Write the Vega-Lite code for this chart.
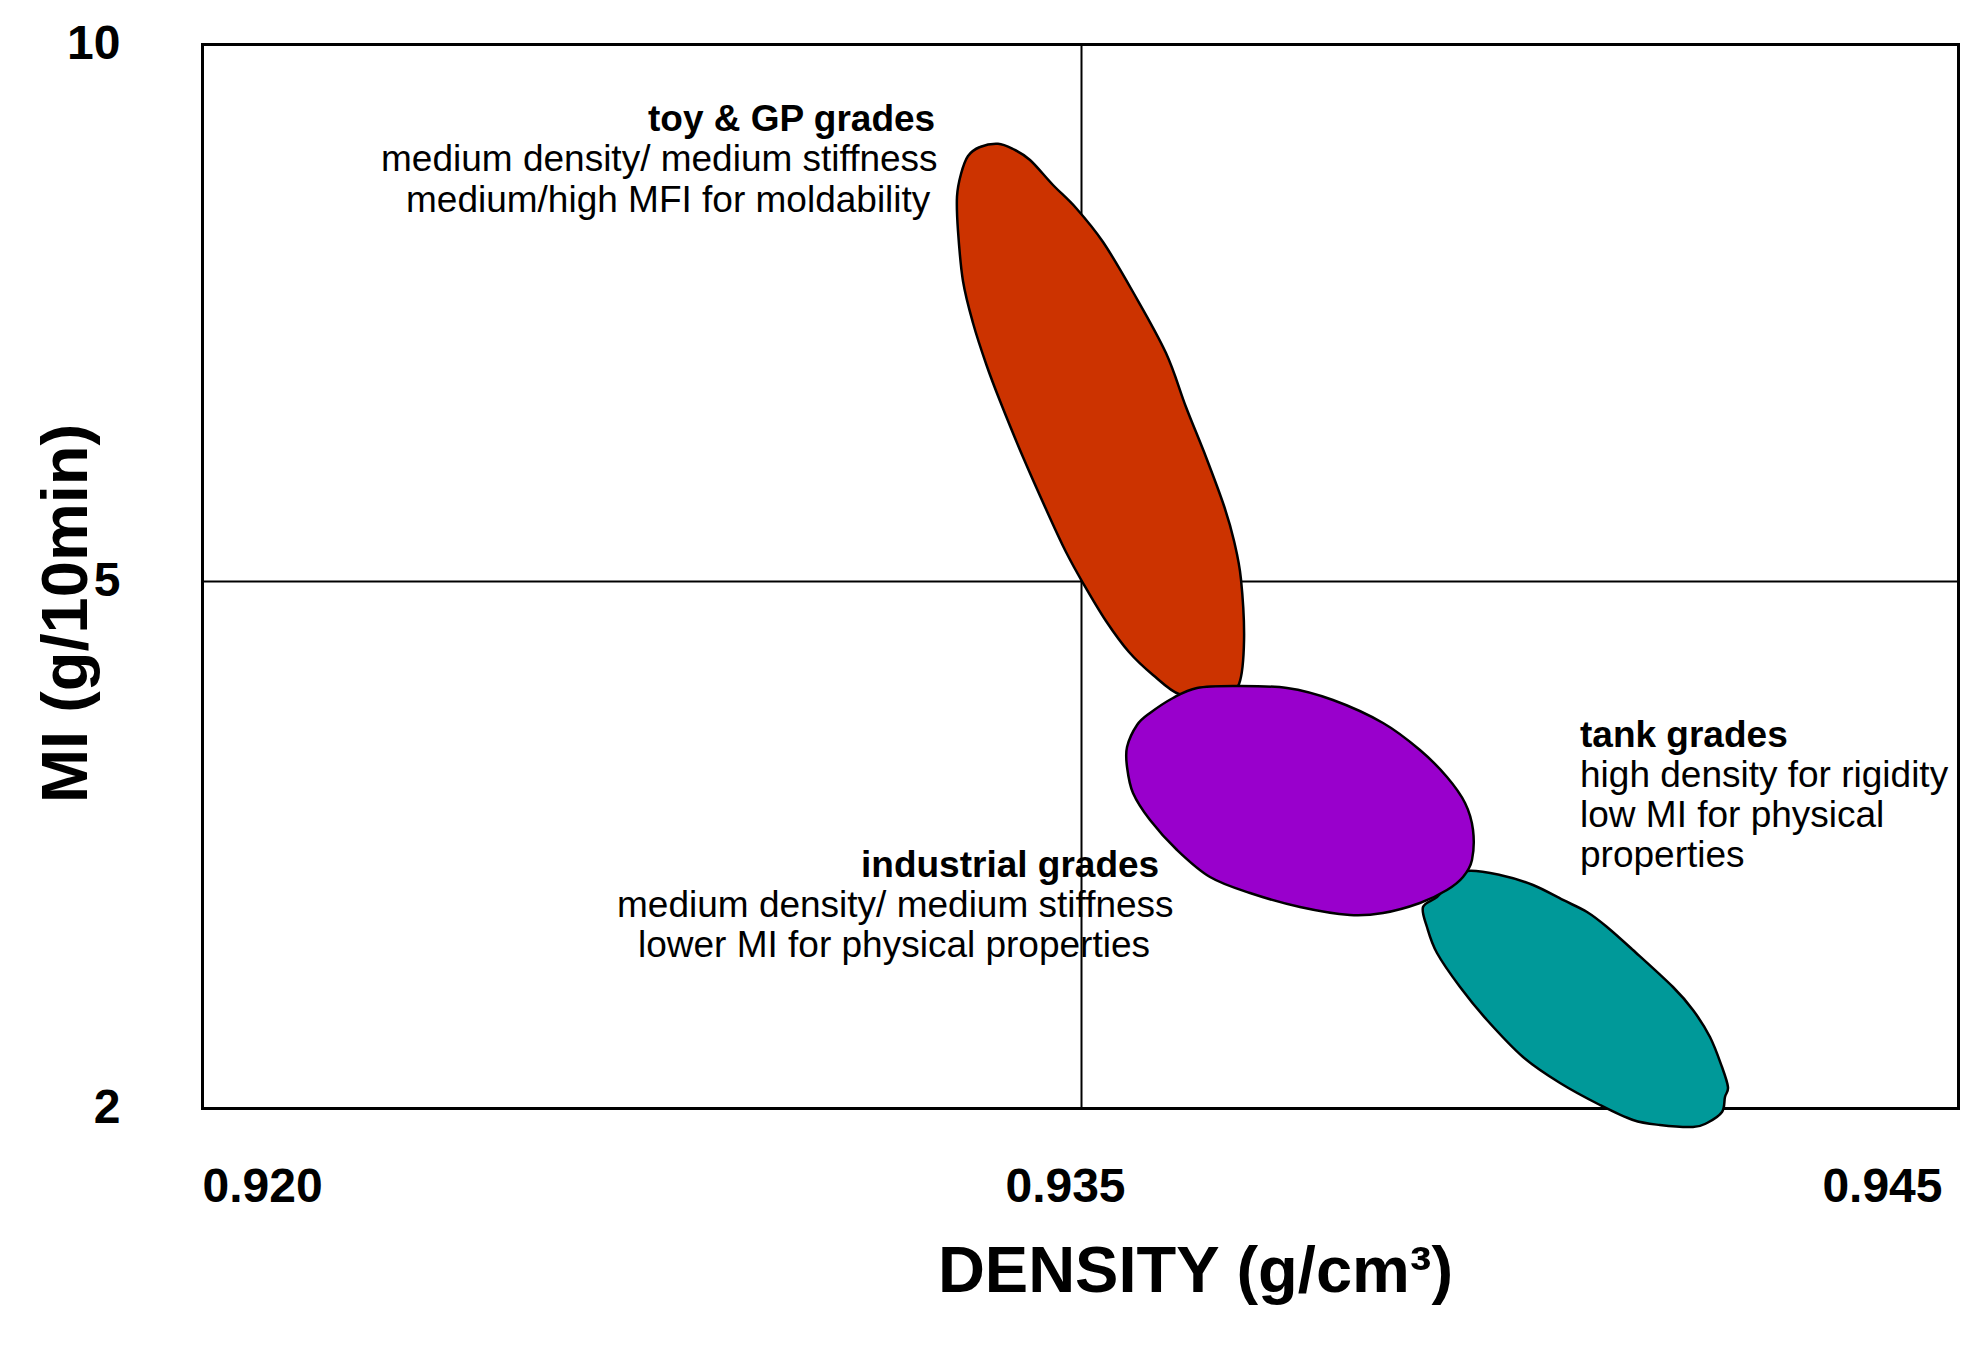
{
  "$schema": "https://vega.github.io/schema/vega-lite/v6.json",
  "width": 1756,
  "height": 1064,
  "autosize": {"type": "none"},
  "padding": {"left": 202, "top": 44, "right": 17, "bottom": 238},
  "background": "white",
  "config": {"view": {"stroke": null}, "font": "Liberation Sans"},
  "datasets": {
    "shapes": [
      {"shape": "toy", "i": 1, "x": 0.933584, "y": 9.0717},
      {"shape": "toy", "i": 2, "x": 0.933276, "y": 9.0410},
      {"shape": "toy", "i": 3, "x": 0.933072, "y": 8.9572},
      {"shape": "toy", "i": 4, "x": 0.932952, "y": 8.7896},
      {"shape": "toy", "i": 5, "x": 0.932884, "y": 8.5801},
      {"shape": "toy", "i": 6, "x": 0.932901, "y": 8.2588},
      {"shape": "toy", "i": 7, "x": 0.932986, "y": 7.7933},
      {"shape": "toy", "i": 8, "x": 0.933157, "y": 7.4022},
      {"shape": "toy", "i": 9, "x": 0.933387, "y": 7.0112},
      {"shape": "toy", "i": 10, "x": 0.933618, "y": 6.6760},
      {"shape": "toy", "i": 11, "x": 0.934010, "y": 6.1546},
      {"shape": "toy", "i": 12, "x": 0.934471, "y": 5.5866},
      {"shape": "toy", "i": 13, "x": 0.934744, "y": 5.2700},
      {"shape": "toy", "i": 14, "x": 0.935023, "y": 4.9886},
      {"shape": "toy", "i": 15, "x": 0.935285, "y": 4.7723},
      {"shape": "toy", "i": 16, "x": 0.935547, "y": 4.5958},
      {"shape": "toy", "i": 17, "x": 0.935821, "y": 4.4649},
      {"shape": "toy", "i": 18, "x": 0.936117, "y": 4.3567},
      {"shape": "toy", "i": 19, "x": 0.936380, "y": 4.3795},
      {"shape": "toy", "i": 20, "x": 0.936653, "y": 4.3909},
      {"shape": "toy", "i": 21, "x": 0.936802, "y": 4.4137},
      {"shape": "toy", "i": 22, "x": 0.936859, "y": 4.6641},
      {"shape": "toy", "i": 23, "x": 0.936824, "y": 5.0186},
      {"shape": "toy", "i": 24, "x": 0.936745, "y": 5.3724},
      {"shape": "toy", "i": 25, "x": 0.936631, "y": 5.6983},
      {"shape": "toy", "i": 26, "x": 0.936425, "y": 6.1546},
      {"shape": "toy", "i": 27, "x": 0.936197, "y": 6.6201},
      {"shape": "toy", "i": 28, "x": 0.935969, "y": 7.1229},
      {"shape": "toy", "i": 29, "x": 0.935593, "y": 7.6909},
      {"shape": "toy", "i": 30, "x": 0.935251, "y": 8.1564},
      {"shape": "toy", "i": 31, "x": 0.934915, "y": 8.4730},
      {"shape": "toy", "i": 32, "x": 0.934522, "y": 8.6872},
      {"shape": "toy", "i": 33, "x": 0.934130, "y": 8.9199},
      {"shape": "toy", "i": 34, "x": 0.933840, "y": 9.0224},

      {"shape": "tank", "i": 1, "x": 0.939401, "y": 3.3491},
      {"shape": "tank", "i": 2, "x": 0.939778, "y": 3.3264},
      {"shape": "tank", "i": 3, "x": 0.940154, "y": 3.2694},
      {"shape": "tank", "i": 4, "x": 0.940496, "y": 3.1841},
      {"shape": "tank", "i": 5, "x": 0.940770, "y": 3.1157},
      {"shape": "tank", "i": 6, "x": 0.940998, "y": 3.0304},
      {"shape": "tank", "i": 7, "x": 0.941294, "y": 2.8994},
      {"shape": "tank", "i": 8, "x": 0.941750, "y": 2.6888},
      {"shape": "tank", "i": 9, "x": 0.941978, "y": 2.5579},
      {"shape": "tank", "i": 10, "x": 0.942172, "y": 2.4042},
      {"shape": "tank", "i": 11, "x": 0.942309, "y": 2.2334},
      {"shape": "tank", "i": 12, "x": 0.942377, "y": 2.1195},
      {"shape": "tank", "i": 13, "x": 0.942343, "y": 2.0626},
      {"shape": "tank", "i": 14, "x": 0.942309, "y": 1.9772},
      {"shape": "tank", "i": 15, "x": 0.942138, "y": 1.9146},
      {"shape": "tank", "i": 16, "x": 0.941978, "y": 1.8918},
      {"shape": "tank", "i": 17, "x": 0.941602, "y": 1.9032},
      {"shape": "tank", "i": 18, "x": 0.941294, "y": 1.9317},
      {"shape": "tank", "i": 19, "x": 0.940918, "y": 2.0171},
      {"shape": "tank", "i": 20, "x": 0.940462, "y": 2.1423},
      {"shape": "tank", "i": 21, "x": 0.940040, "y": 2.2903},
      {"shape": "tank", "i": 22, "x": 0.939629, "y": 2.5009},
      {"shape": "tank", "i": 23, "x": 0.939322, "y": 2.6888},
      {"shape": "tank", "i": 24, "x": 0.939059, "y": 2.8824},
      {"shape": "tank", "i": 25, "x": 0.938945, "y": 3.0304},
      {"shape": "tank", "i": 26, "x": 0.938900, "y": 3.1442},
      {"shape": "tank", "i": 27, "x": 0.939059, "y": 3.2011},
      {"shape": "tank", "i": 28, "x": 0.939208, "y": 3.2808},

      {"shape": "industrial", "i": 1, "x": 0.936323, "y": 4.3909},
      {"shape": "industrial", "i": 2, "x": 0.936733, "y": 4.4023},
      {"shape": "industrial", "i": 3, "x": 0.937349, "y": 4.3909},
      {"shape": "industrial", "i": 4, "x": 0.937873, "y": 4.3226},
      {"shape": "industrial", "i": 5, "x": 0.938444, "y": 4.1917},
      {"shape": "industrial", "i": 6, "x": 0.938865, "y": 4.0380},
      {"shape": "industrial", "i": 7, "x": 0.939173, "y": 3.8843},
      {"shape": "industrial", "i": 8, "x": 0.939379, "y": 3.7362},
      {"shape": "industrial", "i": 9, "x": 0.939470, "y": 3.5825},
      {"shape": "industrial", "i": 10, "x": 0.939458, "y": 3.4118},
      {"shape": "industrial", "i": 11, "x": 0.939356, "y": 3.3150},
      {"shape": "industrial", "i": 12, "x": 0.939173, "y": 3.2410},
      {"shape": "industrial", "i": 13, "x": 0.938865, "y": 3.1670},
      {"shape": "industrial", "i": 14, "x": 0.938444, "y": 3.1101},
      {"shape": "industrial", "i": 15, "x": 0.938067, "y": 3.0987},
      {"shape": "industrial", "i": 16, "x": 0.937497, "y": 3.1442},
      {"shape": "industrial", "i": 17, "x": 0.936927, "y": 3.2239},
      {"shape": "industrial", "i": 18, "x": 0.936471, "y": 3.3150},
      {"shape": "industrial", "i": 19, "x": 0.936095, "y": 3.4687},
      {"shape": "industrial", "i": 20, "x": 0.935787, "y": 3.6395},
      {"shape": "industrial", "i": 21, "x": 0.935593, "y": 3.7932},
      {"shape": "industrial", "i": 22, "x": 0.935525, "y": 3.9412},
      {"shape": "industrial", "i": 23, "x": 0.935525, "y": 4.0550},
      {"shape": "industrial", "i": 24, "x": 0.935639, "y": 4.1803},
      {"shape": "industrial", "i": 25, "x": 0.935787, "y": 4.2486},
      {"shape": "industrial", "i": 26, "x": 0.936049, "y": 4.3340}
    ],
    "labels": [
      {"kind": "title", "text": "toy & GP grades", "x": 0.927611, "y": 9.190},
      {"kind": "note", "text": "medium density/ medium stiffness", "x": 0.923055, "y": 8.813},
      {"kind": "note", "text": "medium/high MFI for moldability", "x": 0.923481, "y": 8.440},
      {"kind": "title", "text": "industrial grades", "x": 0.931246, "y": 3.315},
      {"kind": "note", "text": "medium density/ medium stiffness", "x": 0.927082, "y": 3.087},
      {"kind": "note", "text": "lower MI for physical properties", "x": 0.927440, "y": 2.860},
      {"kind": "title", "text": "tank grades", "x": 0.940690, "y": 4.055},
      {"kind": "note", "text": "high density for rigidity", "x": 0.940690, "y": 3.827},
      {"kind": "note", "text": "low MI for physical", "x": 0.940690, "y": 3.600},
      {"kind": "note", "text": "properties", "x": 0.940690, "y": 3.372}
    ]
  },
  "encoding": {
    "x": {
      "field": "x",
      "type": "quantitative",
      "scale": {"type": "linear", "domain": [0.92, 0.935, 0.945], "range": [0, 879, 1756], "nice": false, "zero": false},
      "axis": {
        "title": "DENSITY (g/cm³)",
        "values": [0.92, 0.935, 0.945],
        "format": ".3f",
        "grid": true,
        "gridColor": "black",
        "gridOpacity": 1,
        "gridWidth": {"condition": {"test": "datum.value > 0.93 && datum.value < 0.94", "value": 2}, "value": 3},
        "gridCap": "square",
        "ticks": false,
        "domain": false,
        "labelFont": "Liberation Sans",
        "labelFontSize": 48,
        "labelFontWeight": "bold",
        "labelColor": "black",
        "labelPadding": 55,
        "labelFlush": true,
        "labelOverlap": false,
        "labelBound": false,
        "labelOffset": {"condition": {"test": "datum.value > 0.93", "value": -16}, "value": 0},
        "titleFont": "Liberation Sans",
        "titleFontSize": 65,
        "titleFontWeight": "bold",
        "titleColor": "black",
        "titleX": 993,
        "titleY": 183,
        "titleAlign": "center",
        "titleBaseline": "alphabetic"
      }
    },
    "y": {
      "field": "y",
      "type": "quantitative",
      "scale": {"type": "linear", "domain": [2, 5, 10], "range": [1064, 537, 0], "nice": false, "zero": false},
      "axis": {
        "title": "MI (g/10min)",
        "values": [2, 5, 10],
        "format": "d",
        "grid": true,
        "gridColor": "black",
        "gridOpacity": 1,
        "gridWidth": {"condition": {"test": "datum.value == 5", "value": 2}, "value": 3},
        "gridCap": "square",
        "ticks": false,
        "domain": false,
        "labelFont": "Liberation Sans",
        "labelFontSize": 48,
        "labelFontWeight": "bold",
        "labelColor": "black",
        "labelPadding": 82,
        "labelOverlap": false,
        "labelBound": false,
        "labelFlush": false,
        "titleFont": "Liberation Sans",
        "titleFontSize": 65,
        "titleFontWeight": "bold",
        "titleColor": "black",
        "titleAngle": -90,
        "titleX": -116,
        "titleY": 569,
        "titleAlign": "center",
        "titleBaseline": "alphabetic"
      }
    }
  },
  "layer": [
    {
      "data": {"name": "shapes"},
      "transform": [{"filter": "datum.shape == 'toy'"}],
      "mark": {"type": "line", "interpolate": "cardinal-closed", "fill": "#CC3300", "stroke": "black", "strokeWidth": 2.5, "strokeJoin": "round"},
      "encoding": {"order": {"field": "i", "type": "quantitative"}}
    },
    {
      "data": {"name": "shapes"},
      "transform": [{"filter": "datum.shape == 'tank'"}],
      "mark": {"type": "line", "interpolate": "cardinal-closed", "fill": "#009999", "stroke": "black", "strokeWidth": 2.5, "strokeJoin": "round"},
      "encoding": {"order": {"field": "i", "type": "quantitative"}}
    },
    {
      "data": {"name": "shapes"},
      "transform": [{"filter": "datum.shape == 'industrial'"}],
      "mark": {"type": "line", "interpolate": "cardinal-closed", "fill": "#9900CC", "stroke": "black", "strokeWidth": 2.5, "strokeJoin": "round"},
      "encoding": {"order": {"field": "i", "type": "quantitative"}}
    },
    {
      "data": {"name": "labels"},
      "transform": [{"filter": "datum.kind == 'title'"}],
      "mark": {"type": "text", "align": "left", "baseline": "alphabetic", "font": "Liberation Sans", "fontSize": 37, "fontWeight": "bold", "color": "black"},
      "encoding": {"text": {"field": "text", "type": "nominal"}}
    },
    {
      "data": {"name": "labels"},
      "transform": [{"filter": "datum.kind == 'note'"}],
      "mark": {"type": "text", "align": "left", "baseline": "alphabetic", "font": "Liberation Sans", "fontSize": 37, "fontWeight": "normal", "color": "black"},
      "encoding": {"text": {"field": "text", "type": "nominal"}}
    }
  ]
}
